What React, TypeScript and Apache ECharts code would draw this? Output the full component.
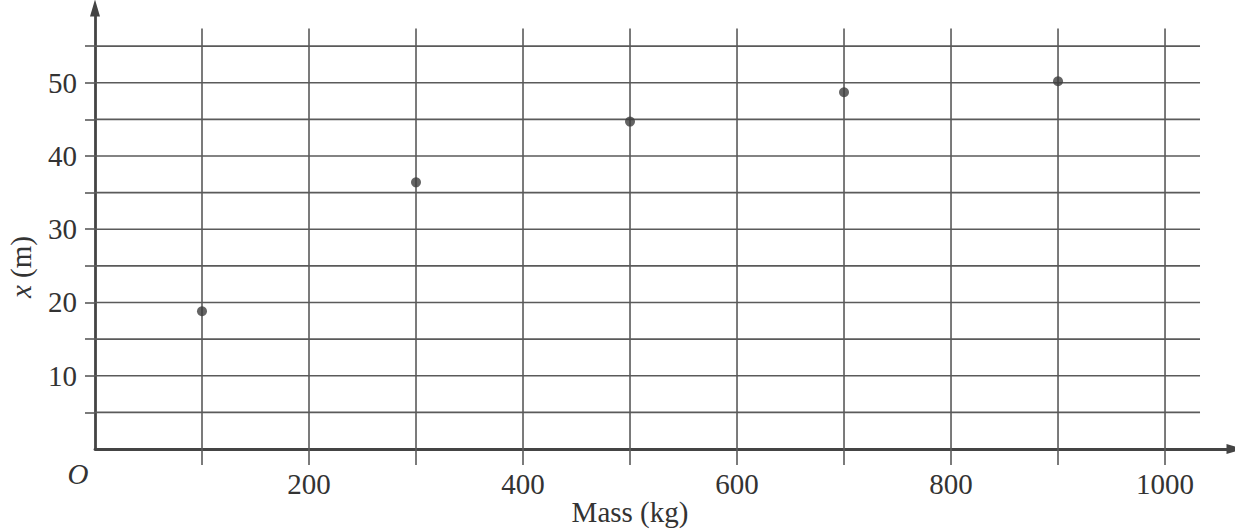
import React, { useEffect, useRef } from "react";
import * as echarts from "echarts";

// Data
const massValues = [100, 300, 500, 700, 900];
const distanceValues = [18.8, 36.4, 44.7, 48.7, 50.2];

// Grid / tick values
const verticalGridValues = [100, 200, 300, 400, 500, 600, 700, 800, 900, 1000];
const horizontalGridValues = [5, 10, 15, 20, 25, 30, 35, 40, 45, 50, 55];
const xTickLabels = [200, 400, 600, 800, 1000];
const yTickLabels = [10, 20, 30, 40, 50];

const X_MAX = 1065.4;
const Y_MAX = 60.2;
const H_LINE_END = 1032.7;
const V_LINE_END = 57.4;

const FONT = "'Liberation Serif', 'DejaVu Serif', serif";
const FONT_SIZE = 29;
const TEXT_COLOR = "#333";
const GRID_COLOR = "#5a5a5a";
const AXIS_COLOR = "#444";

export default function App() {
  const ref = useRef<HTMLDivElement>(null);

  useEffect(() => {
    if (!ref.current) return;
    const chart = echarts.init(ref.current, undefined, { renderer: "svg" });

    const option: any = {
      animation: false,
      backgroundColor: "#ffffff",
      grid: { left: 95, right: 0, top: 8, bottom: 80, containLabel: false },
      xAxis: {
        type: "value",
        min: 0,
        max: X_MAX,
        axisLine: {
          show: true,
          onZero: false,
          symbol: ["none", "triangle"],
          symbolSize: [10, 17],
          lineStyle: { color: AXIS_COLOR, width: 2.8 },
        },
        axisTick: {
          show: true,
          customValues: verticalGridValues,
          length: 16,
          inside: false,
          lineStyle: { color: GRID_COLOR, width: 1.6 },
        },
        axisLabel: {
          customValues: xTickLabels,
          formatter: (v: number) => String(v),
          margin: 20,
          fontFamily: FONT,
          fontSize: FONT_SIZE,
          color: TEXT_COLOR,
        },
        splitLine: { show: false },
      },
      yAxis: {
        type: "value",
        min: 0,
        max: Y_MAX,
        axisLine: {
          show: true,
          onZero: false,
          symbol: ["none", "triangle"],
          symbolSize: [10, 17],
          lineStyle: { color: AXIS_COLOR, width: 2.8 },
        },
        axisTick: {
          show: true,
          customValues: horizontalGridValues,
          length: 10,
          lineStyle: { color: GRID_COLOR, width: 1.6 },
        },
        axisLabel: {
          customValues: yTickLabels,
          formatter: (v: number) => String(v),
          margin: 18,
          fontFamily: FONT,
          fontSize: FONT_SIZE,
          color: TEXT_COLOR,
        },
        splitLine: { show: false },
      },
      series: [
        {
          type: "custom",
          name: "hgrid",
          silent: true,
          z: 1,
          data: horizontalGridValues.map((v) => [0, v]),
          renderItem: (_params: any, api: any) => {
            const v = api.value(1);
            const p1 = api.coord([0, v]);
            const p2 = api.coord([H_LINE_END, v]);
            return {
              type: "line",
              shape: { x1: p1[0], y1: p1[1], x2: p2[0], y2: p2[1] },
              style: { stroke: GRID_COLOR, lineWidth: 1.6 },
            };
          },
        },
        {
          type: "custom",
          name: "vgrid",
          silent: true,
          z: 1,
          data: verticalGridValues.map((v) => [v, 0]),
          renderItem: (_params: any, api: any) => {
            const v = api.value(0);
            const p1 = api.coord([v, 0]);
            const p2 = api.coord([v, V_LINE_END]);
            return {
              type: "line",
              shape: { x1: p1[0], y1: p1[1], x2: p2[0], y2: p2[1] },
              style: { stroke: GRID_COLOR, lineWidth: 1.6 },
            };
          },
        },
        {
          type: "scatter",
          name: "points",
          z: 5,
          symbol: "circle",
          symbolSize: 10,
          itemStyle: { color: "#3d3d3d" },
          data: massValues.map((m, i) => [m, distanceValues[i]]),
        },
      ],
      graphic: [
        {
          type: "text",
          x: 630,
          y: 512,
          style: {
            text: "Mass (kg)",
            font: `${FONT_SIZE}px ${FONT}`,
            fill: TEXT_COLOR,
            align: "center",
            verticalAlign: "middle",
          },
        },
        {
          type: "text",
          x: 78,
          y: 474,
          style: {
            text: "O",
            font: `italic ${FONT_SIZE}px ${FONT}`,
            fill: TEXT_COLOR,
            align: "center",
            verticalAlign: "middle",
          },
        },
        {
          type: "text",
          x: 21,
          y: 267,
          rotation: Math.PI / 2,
          style: {
            text: "{i|x} (m)",
            font: `${FONT_SIZE}px ${FONT}`,
            fill: TEXT_COLOR,
            align: "center",
            verticalAlign: "middle",
            rich: {
              i: { fontStyle: "italic", fontFamily: FONT, fontSize: FONT_SIZE, fill: TEXT_COLOR },
            },
          },
        },
      ],
    };

    chart.setOption(option);
    return () => chart.dispose();
  }, []);

  return (
    <div
      ref={ref}
      style={{ position: "fixed", left: 0, top: 0, width: 1235, height: 529 }}
    />
  );
}
